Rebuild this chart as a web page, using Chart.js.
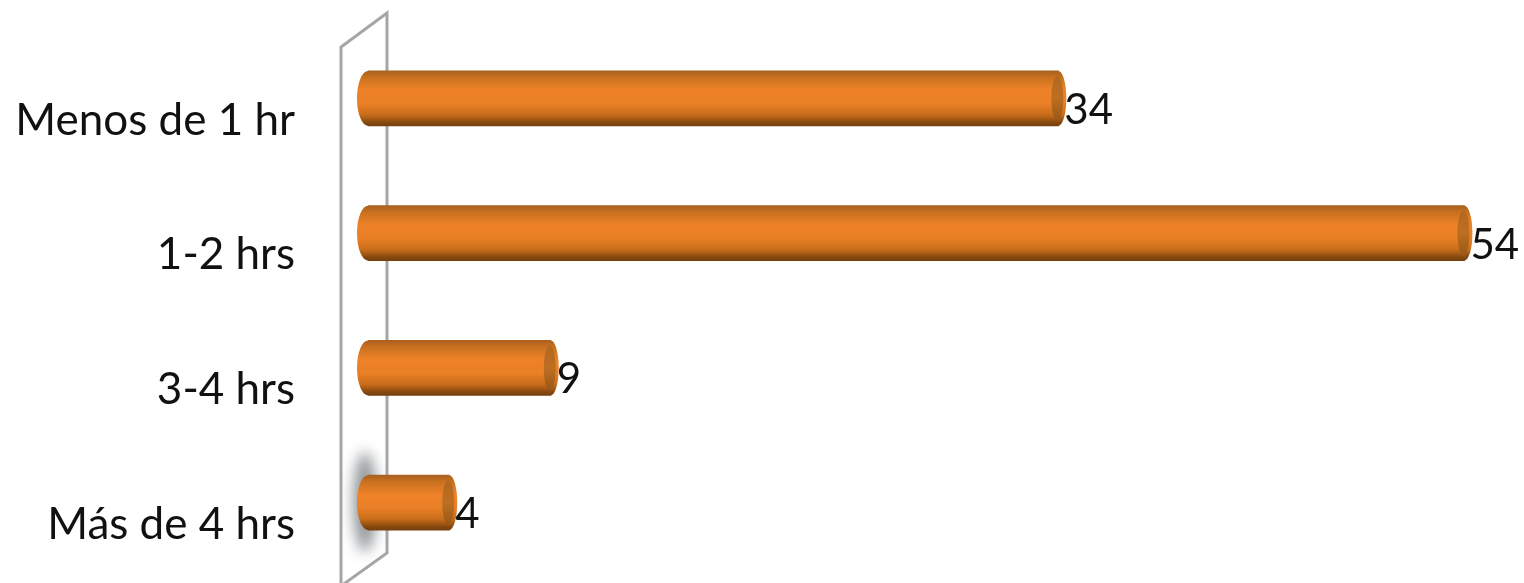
<!DOCTYPE html>
<html>
<head>
<meta charset="utf-8">
<script src="https://cdn.jsdelivr.net/npm/chart.js@4"></script>
<style>
html, body { margin: 0; padding: 0; background: #fff; overflow: hidden; }
canvas { display: block; }
</style>
</head>
<body>
<canvas id="hoursChart" width="1524" height="583"></canvas>
<script>
const categories = ['Menos de 1 hr', '1-2 hrs', '3-4 hrs', 'Más de 4 hrs'];
const values = [34, 54, 9, 4];
const fontName = 'Lato, "Open Sans", sans-serif';

// vertical shading that makes each bar look like a cylinder
function barGradient(c, top, bottom) {
    const g = c.createLinearGradient(0, top, 0, bottom);
    g.addColorStop(0, '#a9601f');
    g.addColorStop(0.12, '#c9711f');
    g.addColorStop(0.35, '#ee8228');
    g.addColorStop(0.6, '#e97f26');
    g.addColorStop(0.8, '#c86d1b');
    g.addColorStop(0.93, '#8a4a0d');
    g.addColorStop(1, '#74400f');
    return g;
}

// darker inside of the open bar end
function capGradient(c, top, bottom) {
    const g = c.createLinearGradient(0, top, 0, bottom);
    g.addColorStop(0, '#b0661f');
    g.addColorStop(0.5, '#bd6f22');
    g.addColorStop(1, '#8f5213');
    return g;
}

// the slanted 3D wall behind the bars, and the soft shadow on it
const wallPlugin = {
    id: 'wall',
    beforeDatasetsDraw(chart) {
        const c = chart.ctx;
        const left = chart.chartArea.left;
        const bottom = chart.chartArea.bottom;
        c.save();
        c.filter = 'blur(7px)';
        c.fillStyle = 'rgba(120,125,130,0.8)';
        c.beginPath();
        c.ellipse(left - 3, bottom - 68, 12, 50, 0, 0, Math.PI * 2);
        c.fill();
        c.filter = 'none';
        c.strokeStyle = '#a6a6a6';
        c.lineWidth = 3;
        c.beginPath();
        c.moveTo(left - 27, 583);
        c.lineTo(left - 27, 47);
        c.lineTo(left + 19, 13);
        c.lineTo(left + 19, 553);
        c.lineTo(left - 27, 586);
        c.stroke();
        c.restore();
    }
};

// rounded left side of each bar, drawn before the bar itself
const capsPlugin = {
    id: 'caps',
    beforeDatasetDraw(chart) {
        const c = chart.ctx;
        const left = chart.chartArea.left;
        chart.getDatasetMeta(0).data.forEach((bar) => {
            const h = bar.height / 2;
            c.save();
            c.fillStyle = barGradient(c, bar.y - h, bar.y + h);
            c.beginPath();
            c.ellipse(left, bar.y, 11, h, 0, 0, Math.PI * 2);
            c.fill();
            c.restore();
        });
    },
    afterDatasetsDraw(chart) {
        const c = chart.ctx;
        chart.getDatasetMeta(0).data.forEach((bar, i) => {
            const h = bar.height / 2;
            c.save();
            // open end of the cylinder
            c.fillStyle = barGradient(c, bar.y - h, bar.y + h);
            c.beginPath();
            c.ellipse(bar.x, bar.y, 8, h, 0, 0, Math.PI * 2);
            c.fill();
            c.fillStyle = capGradient(c, bar.y - h, bar.y + h);
            c.beginPath();
            c.ellipse(bar.x - 1, bar.y, 6, h - 5, 0, 0, Math.PI * 2);
            c.fill();
            // value label
            c.fillStyle = '#111';
            c.font = '42px ' + fontName;
            c.textAlign = 'left';
            c.textBaseline = 'middle';
            c.fillText(String(values[i]), bar.x + 6, bar.y + 12);
            c.restore();
        });
    }
};

const chart = new Chart(document.getElementById('hoursChart').getContext('2d'), {
    type: 'bar',
    data: {
        labels: categories,
        datasets: [{
            data: values,
            barThickness: 55,
            borderWidth: 0,
            backgroundColor(ctx) {
                const area = ctx.chart.chartArea;
                if (!area) return '#e97f26';
                const step = area.height / categories.length;
                const mid = area.top + step * (ctx.dataIndex + 0.5);
                return barGradient(ctx.chart.ctx, mid - 27.5, mid + 27.5);
            }
        }]
    },
    options: {
        indexAxis: 'y',
        responsive: false,
        animation: false,
        layout: { padding: { top: 31, bottom: 13, right: 19 } },
        scales: {
            x: {
                display: false,
                min: 0,
                max: 56
            },
            y: {
                afterFit(scale) {
                    scale.width = 368;
                    scale.paddingTop = 0;
                    scale.paddingBottom = 0;
                },
                border: { display: false },
                grid: { display: false, drawTicks: true, tickLength: 73 },
                ticks: {
                    padding: 0,
                    labelOffset: 22,
                    color: '#111',
                    font: { family: fontName, size: 44 }
                }
            }
        },
        plugins: {
            legend: { display: false },
            tooltip: { enabled: false }
        }
    },
    plugins: [wallPlugin, capsPlugin]
});
</script>
</body>
</html>
